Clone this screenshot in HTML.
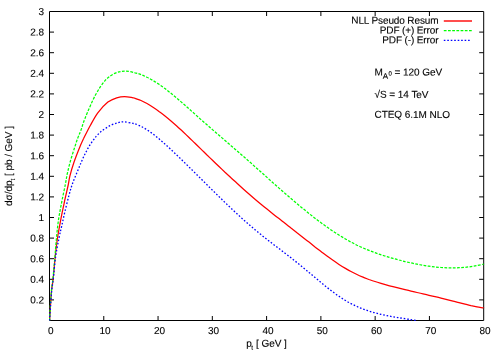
<!DOCTYPE html>
<html><head><meta charset="utf-8"><style>
html,body{margin:0;padding:0;background:#fff}
svg{display:block}
text{stroke:#000;stroke-width:0.12px;font-family:"Liberation Sans",sans-serif;font-size:10px;letter-spacing:-0.05px;fill:#000}
</style></head><body>
<svg width="500" height="350" viewBox="0 0 500 350">
<rect width="500" height="350" fill="#fff"/>
<defs><filter id="bl" x="-5%" y="-5%" width="110%" height="110%"><feGaussianBlur stdDeviation="0.35"/></filter></defs>
<g fill="none" stroke-linejoin="round">
<path d="M443.8,21H472" stroke="#ff0000" stroke-width="1.4"/>
<path d="M443.8,30.6H472" stroke="#00ff00" stroke-width="1.25" stroke-dasharray="2.75 1.45"/>
<path d="M443.8,40.3H470.5" stroke="#0000ff" stroke-width="1.3" stroke-dasharray="1.6 1.87"/>
<path d="M103.78,320.50v-4.5M103.78,11.50v4.5M158.05,320.50v-4.5M158.05,11.50v4.5M212.32,320.50v-4.5M212.32,11.50v4.5M266.60,320.50v-4.5M266.60,11.50v4.5M320.88,320.50v-4.5M320.88,11.50v4.5M375.15,320.50v-4.5M375.15,11.50v4.5M429.43,320.50v-4.5M429.43,11.50v4.5M49.50,299.90h4.5M483.70,299.90h-4.5M49.50,279.30h4.5M483.70,279.30h-4.5M49.50,258.70h4.5M483.70,258.70h-4.5M49.50,238.10h4.5M483.70,238.10h-4.5M49.50,217.50h4.5M483.70,217.50h-4.5M49.50,196.90h4.5M483.70,196.90h-4.5M49.50,176.30h4.5M483.70,176.30h-4.5M49.50,155.70h4.5M483.70,155.70h-4.5M49.50,135.10h4.5M483.70,135.10h-4.5M49.50,114.50h4.5M483.70,114.50h-4.5M49.50,93.90h4.5M483.70,93.90h-4.5M49.50,73.30h4.5M483.70,73.30h-4.5M49.50,52.70h4.5M483.70,52.70h-4.5M49.50,32.10h4.5M483.70,32.10h-4.5" stroke="#000" stroke-width="1"/>
<rect x="49.5" y="11.5" width="434.2" height="309.0" stroke="#000" stroke-width="1"/>
<path d="M49.6,320.5C49.8,317.9 50.2,310.1 50.5,305.0C50.8,299.9 51.2,294.3 51.6,290.0C52.0,285.7 52.5,284.7 53.1,279.2C53.7,273.7 54.5,263.7 55.2,256.8C55.9,249.9 56.5,244.4 57.5,238.0C58.5,231.6 59.8,224.9 61.0,218.4C62.2,211.9 63.8,204.8 65.0,199.2C66.2,193.6 67.4,188.8 68.2,185.0C69.0,181.2 68.9,180.1 69.8,176.4C70.7,172.7 72.3,167.2 73.8,162.8C75.3,158.4 77.0,154.1 78.6,150.0C80.2,145.9 82.0,141.8 83.6,138.5C85.1,135.2 86.8,132.2 87.9,130.0C89.0,127.8 88.7,128.3 90.3,125.5C91.9,122.7 94.9,116.8 97.8,112.9C100.7,109.0 104.8,104.6 107.9,102.1C111.1,99.6 113.9,98.7 116.7,97.8C119.5,96.9 121.8,96.5 124.5,96.5C127.2,96.5 131.2,97.5 133.0,97.8C134.8,98.1 133.7,97.9 135.0,98.3C136.3,98.8 139.0,99.7 141.0,100.5C143.0,101.4 145.0,102.4 147.0,103.5C149.0,104.6 151.0,105.9 153.0,107.2C155.0,108.5 157.0,109.9 159.0,111.4C161.0,112.8 163.0,114.4 165.0,116.0C167.0,117.6 169.0,119.3 171.0,121.0C173.0,122.7 175.0,124.5 177.0,126.3C179.0,128.1 181.0,130.0 183.0,131.8C185.0,133.7 187.0,135.6 189.0,137.5C191.0,139.4 193.0,141.4 195.0,143.3C197.0,145.3 199.0,147.2 201.0,149.1C203.0,151.1 205.0,153.0 207.0,155.0C209.0,156.9 211.0,158.8 213.0,160.7C215.0,162.7 217.0,164.6 219.0,166.5C221.0,168.4 223.0,170.3 225.0,172.2C227.0,174.0 229.0,175.9 231.0,177.8C233.0,179.6 235.0,181.5 237.0,183.3C239.0,185.1 241.0,186.9 243.0,188.7C245.0,190.5 247.0,192.3 249.0,194.0C251.0,195.8 253.0,197.5 255.0,199.2C257.0,200.9 259.0,202.6 261.0,204.2C263.0,205.9 265.0,207.5 267.0,209.1C269.0,210.7 271.0,212.3 273.0,213.9C275.0,215.5 277.0,217.1 279.0,218.6C281.0,220.2 283.0,221.7 285.0,223.3C287.0,224.9 289.0,226.4 291.0,228.0C293.0,229.5 295.0,231.1 297.0,232.7C299.0,234.2 301.0,235.8 303.0,237.4C305.0,239.0 307.0,240.6 309.0,242.1C311.0,243.7 313.0,245.3 315.0,246.9C317.0,248.4 319.0,250.0 321.0,251.5C323.0,253.0 325.0,254.6 327.0,256.0C329.0,257.5 331.0,258.9 333.0,260.3C335.0,261.7 337.0,263.1 339.0,264.4C341.0,265.7 343.0,267.0 345.0,268.1C347.0,269.3 349.0,270.5 351.0,271.5C353.0,272.6 355.0,273.6 357.0,274.5C359.0,275.5 361.0,276.3 363.0,277.1C365.0,278.0 367.0,278.7 369.0,279.5C371.0,280.2 373.0,280.9 375.0,281.5C377.0,282.2 379.0,282.8 381.0,283.4C383.0,284.0 385.0,284.6 387.0,285.1C389.0,285.7 391.0,286.2 393.0,286.7C395.0,287.2 397.0,287.7 399.0,288.2C401.0,288.7 403.0,289.2 405.0,289.7C407.0,290.2 409.0,290.7 411.0,291.1C413.0,291.6 415.0,292.1 417.0,292.5C419.0,293.0 421.0,293.5 423.0,293.9C425.0,294.4 427.0,294.9 429.0,295.3C431.0,295.8 433.0,296.3 435.0,296.7C437.0,297.2 439.0,297.7 441.0,298.1C443.0,298.6 445.0,299.1 447.0,299.6C449.0,300.1 451.0,300.6 453.0,301.1C455.0,301.6 457.0,302.2 459.0,302.7C461.0,303.2 463.0,303.7 465.0,304.2C467.0,304.7 469.0,305.1 471.0,305.6C473.0,306.0 475.0,306.4 477.0,306.8C479.0,307.2 481.9,307.6 483.0,307.8C484.1,308.0 483.4,307.8 483.5,307.9" stroke="#ff0000" stroke-width="1.25"/>
<path d="M49.6,320.5C49.7,317.9 50.1,309.9 50.4,305.0C50.7,300.1 51.0,295.3 51.4,291.0C51.8,286.7 52.3,284.7 52.9,279.0C53.5,273.3 54.3,263.9 54.9,257.0C55.5,250.1 55.9,243.9 56.5,237.6C57.1,231.3 57.7,225.2 58.6,219.2C59.5,213.2 60.7,207.4 61.8,201.6C62.9,195.8 64.4,189.3 65.3,184.6C66.2,179.9 66.5,177.2 67.4,173.2C68.3,169.2 69.4,164.7 70.6,160.4C71.8,156.1 73.4,151.3 74.6,147.6C75.8,143.9 76.7,140.9 77.8,138.0C78.9,135.1 79.8,133.3 81.0,130.0C82.2,126.7 82.8,123.7 85.2,117.9C87.6,112.1 91.9,101.6 95.3,95.3C98.7,89.0 102.1,83.9 105.4,80.2C108.8,76.5 112.1,74.6 115.4,73.1C118.7,71.6 121.7,71.2 125.0,71.1C128.3,71.0 132.3,72.2 135.0,72.8C137.7,73.3 139.0,73.9 141.0,74.6C143.0,75.4 145.0,76.3 147.0,77.3C149.0,78.2 151.0,79.3 153.0,80.5C155.0,81.7 157.0,83.0 159.0,84.3C161.0,85.7 163.0,87.1 165.0,88.6C167.0,90.1 169.0,91.7 171.0,93.3C173.0,94.9 175.0,96.6 177.0,98.3C179.0,100.0 181.0,101.7 183.0,103.5C185.0,105.2 187.0,107.0 189.0,108.8C191.0,110.6 193.0,112.4 195.0,114.2C197.0,116.0 199.0,117.8 201.0,119.6C203.0,121.3 205.0,123.1 207.0,124.8C209.0,126.6 211.0,128.3 213.0,130.1C215.0,131.8 217.0,133.6 219.0,135.3C221.0,137.0 223.0,138.8 225.0,140.5C227.0,142.2 229.0,143.9 231.0,145.7C233.0,147.4 235.0,149.1 237.0,150.9C239.0,152.6 241.0,154.3 243.0,156.1C245.0,157.8 247.0,159.6 249.0,161.4C251.0,163.1 253.0,164.9 255.0,166.7C257.0,168.5 259.0,170.3 261.0,172.0C263.0,173.8 265.0,175.6 267.0,177.4C269.0,179.2 271.0,181.0 273.0,182.8C275.0,184.5 277.0,186.3 279.0,188.1C281.0,189.9 283.0,191.6 285.0,193.4C287.0,195.1 289.0,196.8 291.0,198.6C293.0,200.3 295.0,202.0 297.0,203.7C299.0,205.3 301.0,207.0 303.0,208.6C305.0,210.3 307.0,211.9 309.0,213.5C311.0,215.1 313.0,216.7 315.0,218.2C317.0,219.7 319.0,221.3 321.0,222.7C323.0,224.2 325.0,225.7 327.0,227.1C329.0,228.5 331.0,229.9 333.0,231.2C335.0,232.5 337.0,233.8 339.0,235.1C341.0,236.3 343.0,237.5 345.0,238.7C347.0,239.9 349.0,241.0 351.0,242.1C353.0,243.2 355.0,244.2 357.0,245.2C359.0,246.1 361.0,247.1 363.0,247.9C365.0,248.8 367.0,249.6 369.0,250.4C371.0,251.2 373.0,252.0 375.0,252.7C377.0,253.4 379.0,254.1 381.0,254.8C383.0,255.4 385.0,256.1 387.0,256.7C389.0,257.3 391.0,257.9 393.0,258.4C395.0,259.0 397.0,259.5 399.0,260.0C401.0,260.6 403.0,261.1 405.0,261.6C407.0,262.0 409.0,262.5 411.0,262.9C413.0,263.4 415.0,263.8 417.0,264.2C419.0,264.6 421.0,264.9 423.0,265.3C425.0,265.6 427.0,265.9 429.0,266.2C431.0,266.5 433.0,266.7 435.0,266.9C437.0,267.1 439.0,267.3 441.0,267.5C443.0,267.6 445.0,267.7 447.0,267.8C449.0,267.8 451.0,267.9 453.0,267.8C455.0,267.8 457.0,267.8 459.0,267.7C461.0,267.6 463.0,267.5 465.0,267.3C467.0,267.1 469.0,266.9 471.0,266.6C473.0,266.3 475.0,266.0 477.0,265.6C479.0,265.2 481.9,264.6 483.0,264.3C484.1,264.1 483.4,264.2 483.5,264.2" stroke="#00ff00" stroke-width="1.25" stroke-dasharray="2.75 1.45"/>
<path d="M49.6,320.5C49.8,317.9 50.2,310.1 50.6,305.0C51.0,299.9 51.3,294.3 51.8,290.0C52.2,285.7 52.7,284.7 53.3,279.2C53.9,273.7 54.6,263.7 55.6,256.8C56.6,249.9 58.0,243.2 59.0,238.0C60.0,232.8 60.8,230.1 61.8,225.6C62.8,221.1 63.8,216.3 65.0,211.2C66.2,206.1 67.8,199.7 69.0,195.2C70.2,190.7 71.0,188.0 72.3,184.2C73.6,180.4 75.5,176.0 77.0,172.4C78.5,168.8 79.7,165.9 81.0,162.8C82.3,159.7 83.5,156.9 85.0,154.0C86.5,151.1 87.9,148.1 89.8,145.2C91.7,142.3 94.0,138.9 96.2,136.4C98.4,133.9 100.3,132.1 102.7,130.3C105.1,128.5 107.9,126.8 110.4,125.5C112.9,124.2 115.6,123.3 117.9,122.7C120.2,122.1 121.7,121.8 124.2,121.9C126.7,122.0 131.2,123.1 133.0,123.4C134.8,123.7 133.7,123.3 135.0,123.8C136.3,124.3 139.0,125.4 141.0,126.4C143.0,127.4 145.0,128.5 147.0,129.8C149.0,131.1 151.0,132.5 153.0,134.0C155.0,135.5 157.0,137.1 159.0,138.8C161.0,140.5 163.0,142.3 165.0,144.1C167.0,145.8 169.0,147.7 171.0,149.6C173.0,151.5 175.0,153.4 177.0,155.3C179.0,157.2 181.0,159.1 183.0,161.1C185.0,163.0 187.0,165.0 189.0,167.0C191.0,168.9 193.0,170.9 195.0,172.9C197.0,174.9 199.0,176.9 201.0,178.8C203.0,180.8 205.0,182.8 207.0,184.8C209.0,186.8 211.0,188.8 213.0,190.7C215.0,192.7 217.0,194.7 219.0,196.6C221.0,198.6 223.0,200.5 225.0,202.5C227.0,204.4 229.0,206.3 231.0,208.2C233.0,210.1 235.0,212.0 237.0,213.8C239.0,215.7 241.0,217.5 243.0,219.3C245.0,221.1 247.0,222.9 249.0,224.6C251.0,226.3 253.0,228.0 255.0,229.7C257.0,231.4 259.0,233.0 261.0,234.6C263.0,236.3 265.0,237.8 267.0,239.4C269.0,241.0 271.0,242.5 273.0,244.0C275.0,245.6 277.0,247.1 279.0,248.6C281.0,250.2 283.0,251.7 285.0,253.2C287.0,254.7 289.0,256.3 291.0,257.8C293.0,259.4 295.0,261.0 297.0,262.6C299.0,264.2 301.0,265.8 303.0,267.4C305.0,269.1 307.0,270.8 309.0,272.4C311.0,274.1 313.0,275.8 315.0,277.5C317.0,279.2 319.0,280.9 321.0,282.5C323.0,284.2 325.0,285.8 327.0,287.4C329.0,289.0 331.0,290.5 333.0,292.0C335.0,293.5 337.0,295.0 339.0,296.3C341.0,297.7 343.0,299.0 345.0,300.2C347.0,301.4 349.0,302.6 351.0,303.6C353.0,304.6 355.0,305.6 357.0,306.5C359.0,307.4 361.0,308.2 363.0,309.0C365.0,309.7 367.0,310.4 369.0,311.1C371.0,311.7 373.0,312.3 375.0,312.8C377.0,313.4 379.0,313.9 381.0,314.4C383.0,314.8 385.0,315.2 387.0,315.6C389.0,316.0 391.0,316.4 393.0,316.8C395.0,317.1 397.0,317.4 399.0,317.8C401.0,318.1 403.0,318.4 405.0,318.7C407.0,319.0 409.2,319.3 411.0,319.6C412.8,319.9 415.2,320.3 416.0,320.4" stroke="#0000ff" stroke-width="1.3" stroke-dasharray="1.6 1.87"/>
</g>
<g filter="url(#bl)">
<text x="50.8" y="334" transform="rotate(0.12 50.8 334)" text-anchor="middle">0</text><text x="105.1" y="334" transform="rotate(0.12 105.1 334)" text-anchor="middle">10</text><text x="159.4" y="334" transform="rotate(0.12 159.4 334)" text-anchor="middle">20</text><text x="213.6" y="334" transform="rotate(0.12 213.6 334)" text-anchor="middle">30</text><text x="267.9" y="334" transform="rotate(0.12 267.9 334)" text-anchor="middle">40</text><text x="322.2" y="334" transform="rotate(0.12 322.2 334)" text-anchor="middle">50</text><text x="376.4" y="334" transform="rotate(0.12 376.4 334)" text-anchor="middle">60</text><text x="430.7" y="334" transform="rotate(0.12 430.7 334)" text-anchor="middle">70</text><text x="485.0" y="334" transform="rotate(0.12 485.0 334)" text-anchor="middle">80</text><text x="44" y="303.4" transform="rotate(0.12 44 303.4)" text-anchor="end">0.2</text><text x="44" y="282.8" transform="rotate(0.12 44 282.8)" text-anchor="end">0.4</text><text x="44" y="262.2" transform="rotate(0.12 44 262.2)" text-anchor="end">0.6</text><text x="44" y="241.6" transform="rotate(0.12 44 241.6)" text-anchor="end">0.8</text><text x="44" y="221.0" transform="rotate(0.12 44 221.0)" text-anchor="end">1</text><text x="44" y="200.4" transform="rotate(0.12 44 200.4)" text-anchor="end">1.2</text><text x="44" y="179.8" transform="rotate(0.12 44 179.8)" text-anchor="end">1.4</text><text x="44" y="159.2" transform="rotate(0.12 44 159.2)" text-anchor="end">1.6</text><text x="44" y="138.6" transform="rotate(0.12 44 138.6)" text-anchor="end">1.8</text><text x="44" y="118.0" transform="rotate(0.12 44 118.0)" text-anchor="end">2</text><text x="44" y="97.4" transform="rotate(0.12 44 97.4)" text-anchor="end">2.2</text><text x="44" y="76.8" transform="rotate(0.12 44 76.8)" text-anchor="end">2.4</text><text x="44" y="56.2" transform="rotate(0.12 44 56.2)" text-anchor="end">2.6</text><text x="44" y="35.6" transform="rotate(0.12 44 35.6)" text-anchor="end">2.8</text><text x="44" y="15.0" transform="rotate(0.12 44 15.0)" text-anchor="end">3</text>
<text x="438.4" y="23.8" transform="rotate(0.12 438.4 23.8)" text-anchor="end" style="letter-spacing:-0.13px">NLL Pseudo Resum</text>
<text x="438.4" y="33.6" transform="rotate(0.12 438.4 33.6)" text-anchor="end" style="letter-spacing:-0.13px">PDF (+) Error</text>
<text x="438.4" y="43.4" transform="rotate(0.12 438.4 43.4)" text-anchor="end" style="letter-spacing:-0.13px">PDF (-) Error</text>
<text x="374.5" y="75.4" transform="rotate(0.12 374.5 75.4)">M<tspan font-size="8px" dy="3.4">A</tspan><tspan font-size="6px" dy="-3.4" dx="0.3">0</tspan><tspan dy="0"> = 120 GeV</tspan></text>
<text x="374.5" y="97.8" transform="rotate(0.12 374.5 97.8)">√S = 14 TeV</text>
<text x="374.5" y="117.8" transform="rotate(0.12 374.5 117.8)">CTEQ 6.1M NLO</text>
<text x="266.5" y="346.7" transform="rotate(0.12 266.5 346.7)" text-anchor="middle">p<tspan font-size="6.5px" dy="3" dx="-0.45">t</tspan><tspan dy="-3" dx="0.3"> [ GeV ]</tspan></text>
<text transform="translate(12,166) rotate(-90.12)" text-anchor="middle">dσ/dp<tspan font-size="6.5px" dy="3" dx="0">t</tspan><tspan dy="-3"> [ pb / GeV ]</tspan></text>
</g>
</svg>
</body></html>
